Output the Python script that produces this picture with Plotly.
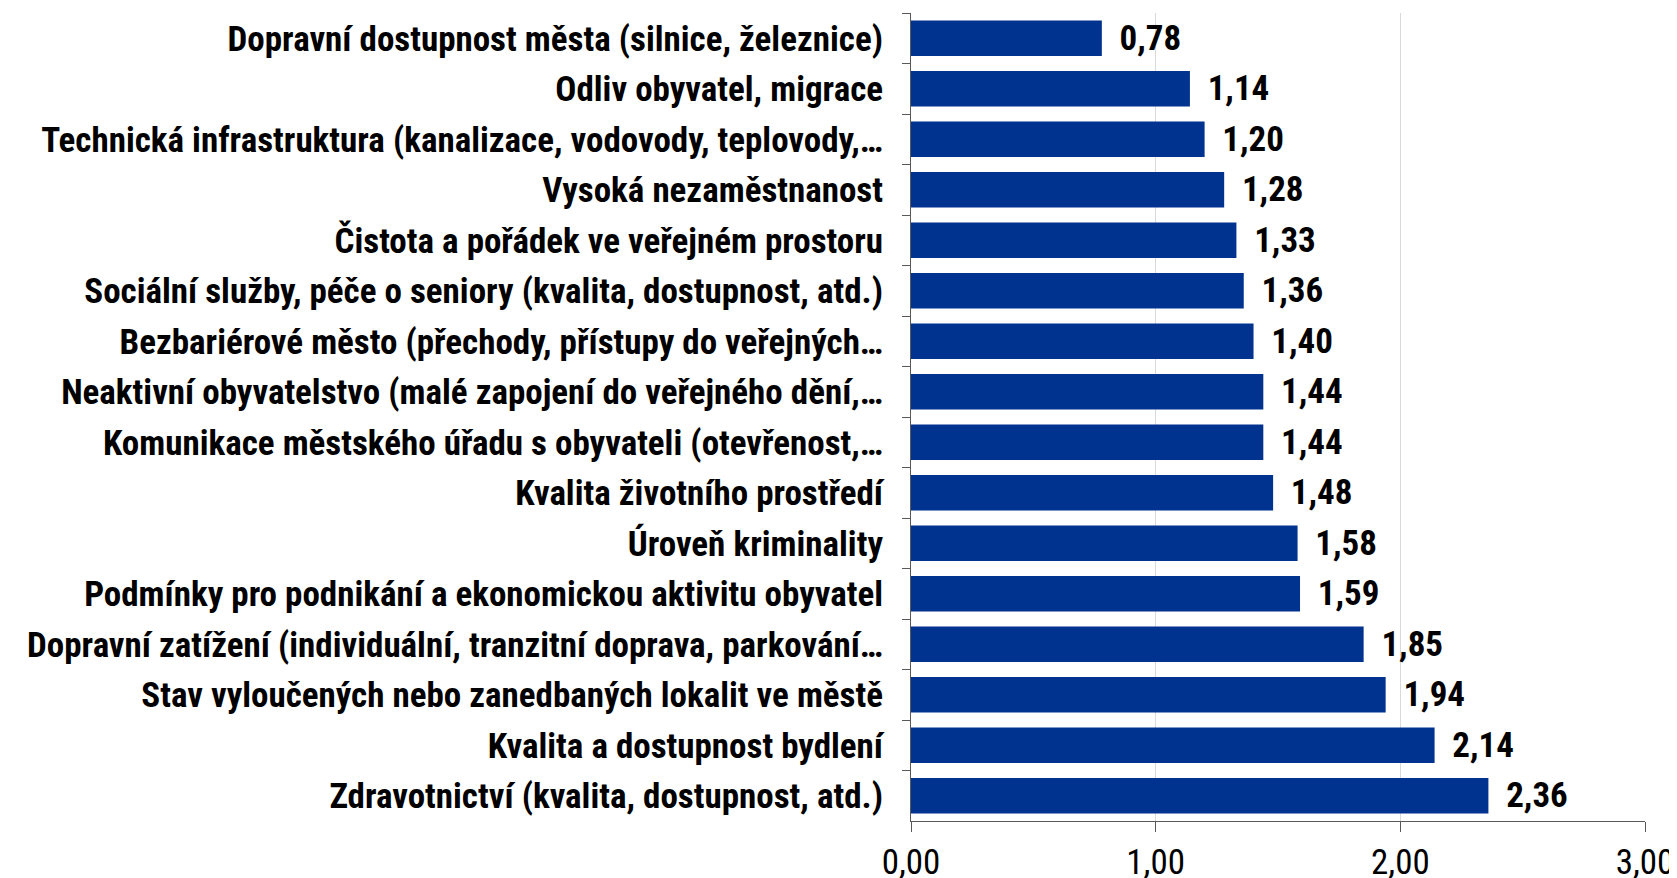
import plotly.graph_objects as go

categories = [
    "Dopravní dostupnost města (silnice, železnice)",
    "Odliv obyvatel, migrace",
    "Technická infrastruktura (kanalizace, vodovody, teplovody,…",
    "Vysoká nezaměstnanost",
    "Čistota a pořádek ve veřejném prostoru",
    "Sociální služby, péče o seniory (kvalita, dostupnost, atd.)",
    "Bezbariérové město (přechody, přístupy do veřejných…",
    "Neaktivní obyvatelstvo (malé zapojení do veřejného dění,…",
    "Komunikace městského úřadu s obyvateli (otevřenost,…",
    "Kvalita životního prostředí",
    "Úroveň kriminality",
    "Podmínky pro podnikání a ekonomickou aktivitu obyvatel",
    "Dopravní zatížení (individuální, tranzitní doprava, parkování…",
    "Stav vyloučených nebo zanedbaných lokalit ve městě",
    "Kvalita a dostupnost bydlení",
    "Zdravotnictví (kvalita, dostupnost, atd.)",
]
values = [0.78, 1.14, 1.20, 1.28, 1.33, 1.36, 1.40, 1.44, 1.44, 1.48, 1.58, 1.59, 1.85, 1.94, 2.14, 2.36]
x_ticks = [0, 1, 2, 3]

FONT = "Liberation Sans Narrow, Arial Narrow, Roboto Condensed, Liberation Sans, sans-serif"

fig = go.Figure(go.Bar(
    y=categories,
    x=values,
    orientation="h",
    marker=dict(color="#00338F", line=dict(width=0)),
    text=[f"{v:.2f}".replace(".", ",") for v in values],
    texttemplate="\u00a0\u2009%{text}",
    textposition="outside",
    constraintext="none",
    cliponaxis=False,
    textfont=dict(family=FONT, size=35, color="#000000", weight="bold"),
))

fig.update_layout(
    width=1669, height=870,
    margin=dict(l=903, r=32, t=5, b=57),
    paper_bgcolor="white", plot_bgcolor="white",
    bargap=0.3,
    showlegend=False,
    separators=",.",
    font=dict(family=FONT),
)
fig.update_xaxes(
    range=[0, 3], tickvals=x_ticks, tickformat=".2f",
    showgrid=True, gridcolor="#D9D9D9", gridwidth=1,
    showline=True, linecolor="#595959", linewidth=1,
    ticks="outside", ticklen=10, tickcolor="#595959",
    ticklabelstandoff=0,
    tickfont=dict(family=FONT, size=35, color="#000000"),
    zeroline=False, fixedrange=True, automargin=False,
)
fig.update_yaxes(
    autorange="reversed", type="category",
    showline=True, linecolor="#595959", linewidth=1,
    ticks="outside", ticklen=8, tickcolor="#595959", tickson="boundaries",
    ticklabelstandoff=20, automargin=False,
    tickfont=dict(family=FONT, size=35, color="#000000", weight="bold"),
    showgrid=False,
)

fig.write_html("out.html")
